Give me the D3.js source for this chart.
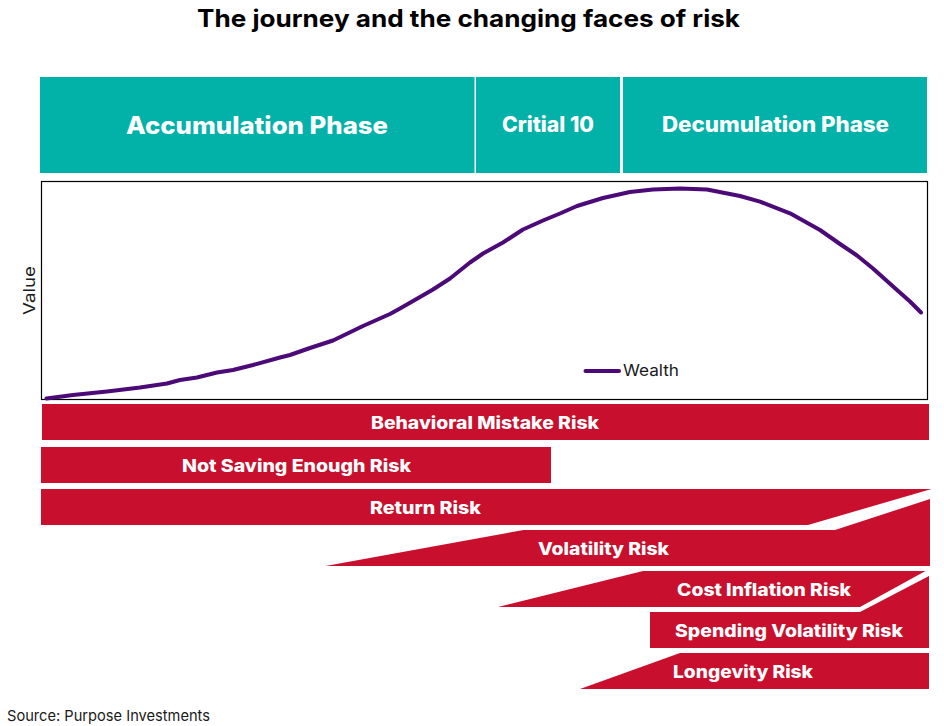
<!DOCTYPE html>
<html>
<head>
<meta charset="utf-8">
<script src="https://cdn.jsdelivr.net/npm/d3@7"></script>
<style>
body { margin: 0; background: white; }
text { font-family: Inter, "Noto Sans", sans-serif; }
</style>
</head>
<body>
<div id="Canvas1"></div>
<script>
let width = 944
let height = 726
let svg = d3.select("#Canvas1")
    .append("svg")
    .attr("width", width)
    .attr("height", height)
    .style("display", "block")

let teal = "#02b2a9"
let red = "#c8102e"
let purple = "#4b0a78"

// plot box, x = position along the journey, y = wealth
let x = d3.scaleLinear().domain([0, 886]).range([41.5, 927.5])
let y = d3.scaleLinear().domain([0, 218]).range([399.5, 181.5])
// risk rows use the same x but their own vertical scale (0 = top of page row area)
let ry = d3.scaleLinear().domain([0, 300]).range([400, 700])

// [position, wealth]
let wealth = [[5,1],[31.5,4.5],[65.5,8],[98.5,12],[125.5,16],[138.5,19.5],[155.5,22],[175.5,27],[191.5,29.5],
    [211.5,34.5],[238.5,42],[248.5,44.5],[268.5,51.5],[291.5,59],[321.5,73.5],[348.5,85.5],[358.5,91],
    [378.5,102.5],[391.5,110],[408.5,121],[428.5,137],[441.5,146],[461.5,157],[481.5,170],[501.5,179],
    [518.5,186],[535.5,193.5],[561.5,201.5],[588.5,207.5],[611.5,210],[638.5,211],[665.5,210],
    [698.5,203.5],[718.5,197.8],[748.5,186.2],[778.5,169.5],[798.5,155.5],[815.5,144],[831.5,131],
    [855.5,109.5],[868.5,98],[879.5,87]]

let phases = [
    {name: "Accumulation Phase", x0: -1.5, x1: 433, size: 24, base: 134, tx: 215.5, tw: 262},
    {name: "Critial 10", x0: 434.5, x1: 578.5, size: 21, base: 132, tx: 506.5, tw: 92},
    {name: "Decumulation Phase", x0: 581.5, x1: 885.5, size: 21, base: 132, tx: 734, tw: 227}
]

// pts = outline of each risk band as [position, row y]
let risks = [
    {name: "Behavioral Mistake Risk", tx: 443.5, base: 429, tw: 228,
        pts: [[0.5,4],[887.5,4],[887.5,40],[0.5,40]]},
    {name: "Not Saving Enough Risk", tx: 255, base: 472, tw: 229,
        pts: [[-0.5,47],[509.5,47],[509.5,83],[-0.5,83]]},
    {name: "Return Risk", tx: 384, base: 514, tw: 111,
        pts: [[-0.5,89],[890,89],[766.5,125],[-0.5,125]]},
    {name: "Volatility Risk", tx: 562, base: 555, tw: 131,
        pts: [[284,166],[482,130],[793.5,130],[888.5,99],[888.5,166]]},
    {name: "Cost Inflation Risk", tx: 722.5, base: 596, tw: 174,
        pts: [[456.5,207],[601.5,171],[884,171],[818.5,207]]},
    {name: "Spending Volatility Risk", tx: 747.5, base: 637, tw: 228,
        pts: [[608.5,212],[818.5,212],[887.5,176],[887.5,248],[608.5,248]]},
    {name: "Longevity Risk", tx: 701.5, base: 678, tw: 140,
        pts: [[538.5,289],[638.5,253],[887.5,253],[887.5,289]]}
]

// Title
svg.append("text")
    .attr("x", 468.5)
    .attr("y", 27)
    .attr("text-anchor", "middle")
    .attr("textLength", 543)
    .attr("lengthAdjust", "spacingAndGlyphs")
    .style("font-size", "24px")
    .style("font-weight", 700)
    .style("fill", "#000")
    .text("The journey and the changing faces of risk")

// phase boxes
let phase_g = svg.append("g").selectAll("g").data(phases).join("g")
phase_g.append("rect")
    .attr("x", d => x(d.x0))
    .attr("y", 77)
    .attr("width", d => x(d.x1) - x(d.x0))
    .attr("height", 96)
    .attr("fill", teal)
phase_g.append("text")
    .attr("x", d => x(d.tx))
    .attr("y", d => d.base)
    .attr("text-anchor", "middle")
    .attr("textLength", d => d.tw)
    .attr("lengthAdjust", "spacingAndGlyphs")
    .style("font-size", d => d.size + "px")
    .style("font-weight", 800)
    .style("fill", "white")
    .text(d => d.name)

// plot frame
svg.append("rect")
    .attr("x", x(0))
    .attr("y", y(218))
    .attr("width", x(886) - x(0))
    .attr("height", y(0) - y(218))
    .attr("fill", "white")
    .attr("stroke", "#000")
    .attr("stroke-width", 1.2)

let line = d3.line().x(d => x(d[0])).y(d => y(d[1]))
svg.append("path")
    .datum(wealth)
    .attr("d", line)
    .attr("fill", "none")
    .attr("stroke", purple)
    .attr("stroke-width", 4)
    .attr("stroke-linecap", "round")
    .attr("stroke-linejoin", "round")

// y axis title
svg.append("text")
    .attr("transform", "translate(35,290.5) rotate(-90)")
    .attr("text-anchor", "middle")
    .attr("textLength", 49)
    .attr("lengthAdjust", "spacingAndGlyphs")
    .style("font-size", "16px")
    .style("fill", "#1a1a1a")
    .text("Value")

// legend
svg.append("line")
    .attr("x1", x(544))
    .attr("x2", x(577.5))
    .attr("y1", y(28.5))
    .attr("y2", y(28.5))
    .attr("stroke", purple)
    .attr("stroke-width", 4)
    .attr("stroke-linecap", "round")
svg.append("text")
    .attr("x", x(581.5))
    .attr("y", 376)
    .attr("textLength", 56)
    .attr("lengthAdjust", "spacingAndGlyphs")
    .style("font-size", "16px")
    .style("fill", "#1a1a1a")
    .text("Wealth")

// risk bands
let risk_g = svg.append("g").selectAll("g").data(risks).join("g")
risk_g.append("polygon")
    .attr("points", d => d.pts.map(p => x(p[0]) + "," + ry(p[1])).join(" "))
    .attr("fill", red)
risk_g.append("text")
    .attr("x", d => x(d.tx))
    .attr("y", d => d.base)
    .attr("text-anchor", "middle")
    .attr("textLength", d => d.tw)
    .attr("lengthAdjust", "spacingAndGlyphs")
    .style("font-size", "17px")
    .style("font-weight", 800)
    .style("fill", "white")
    .text(d => d.name)

// source
svg.append("text")
    .attr("x", 7)
    .attr("y", 720.5)
    .attr("textLength", 203)
    .attr("lengthAdjust", "spacingAndGlyphs")
    .style("font-size", "15px")
    .style("fill", "#1a1a1a")
    .text("Source: Purpose Investments")
</script>
</body>
</html>
